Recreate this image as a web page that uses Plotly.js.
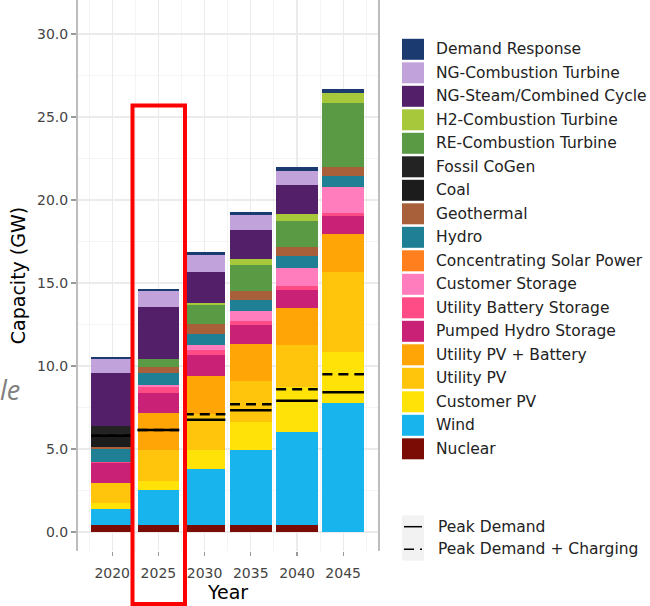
<!DOCTYPE html>
<html>
<head>
<meta charset="utf-8">
<script src="https://cdn.plot.ly/plotly-3.0.1.min.js"></script>
<style>
  html, body { margin: 0; padding: 0; background: #ffffff; }
  #chart { width: 650px; height: 606px; }
</style>
</head>
<body>
<div id="chart"></div>
<script>
// Study years on the x axis
const years = [2020, 2025, 2030, 2035, 2040, 2045];

// Installed capacity by resource (GW), one value per study year
const demandResponse        = [0.12, 0.14, 0.20, 0.20, 0.26, 0.21];
const ngCombustionTurbine   = [0.84, 0.94, 1.01, 0.87, 0.85, 0.00];
const ngSteamCombinedCycle  = [3.17, 3.12, 1.90, 1.78, 1.70, 0.00];
const h2CombustionTurbine   = [0.00, 0.00, 0.07, 0.37, 0.47, 0.60];
const reCombustionTurbine   = [0.00, 0.50, 1.15, 1.56, 1.56, 3.89];
const fossilCoGen           = [0.59, 0.00, 0.00, 0.00, 0.00, 0.00];
const coal                  = [0.66, 0.00, 0.00, 0.00, 0.00, 0.00];
const geothermal            = [0.16, 0.36, 0.60, 0.50, 0.53, 0.51];
const hydro                 = [0.75, 0.75, 0.66, 0.71, 0.69, 0.69];
const concentratingSolar    = [0.00, 0.00, 0.00, 0.00, 0.00, 0.00];
const customerStorage       = [0.00, 0.10, 0.30, 0.60, 1.10, 1.57];
const utilityBatteryStorage = [0.10, 0.35, 0.35, 0.24, 0.23, 0.16];
const pumpedHydroStorage    = [1.21, 1.21, 1.24, 1.10, 1.08, 1.09];
const utilityPvBattery      = [0.00, 2.21, 2.27, 2.27, 2.27, 2.27];
const utilityPv             = [1.20, 1.91, 2.21, 2.46, 2.52, 4.82];
const customerPv            = [0.36, 0.50, 1.14, 1.70, 2.71, 3.11];
const wind                  = [0.97, 2.15, 3.38, 4.52, 5.62, 7.75];
const nuclear               = [0.40, 0.40, 0.40, 0.40, 0.40, 0.00];

// Peak demand lines (GW)
const peakDemand         = [5.80, 6.14, 6.76, 7.33, 7.91, 8.42];
const peakDemandCharging = [5.80, 6.14, 7.09, 7.69, 8.60, 9.50];

// Key order, top to bottom
const techNames = [
  'Demand Response', 'NG-Combustion Turbine', 'NG-Steam/Combined Cycle',
  'H2-Combustion Turbine', 'RE-Combustion Turbine', 'Fossil CoGen', 'Coal',
  'Geothermal', 'Hydro', 'Concentrating Solar Power', 'Customer Storage',
  'Utility Battery Storage', 'Pumped Hydro Storage', 'Utility PV + Battery',
  'Utility PV', 'Customer PV', 'Wind', 'Nuclear'
];
const techValues = [
  demandResponse, ngCombustionTurbine, ngSteamCombinedCycle,
  h2CombustionTurbine, reCombustionTurbine, fossilCoGen, coal,
  geothermal, hydro, concentratingSolar, customerStorage,
  utilityBatteryStorage, pumpedHydroStorage, utilityPvBattery,
  utilityPv, customerPv, wind, nuclear
];
const techColors = [
  '#1b3a70', '#c2a2da', '#521f68',
  '#a8c83c', '#5b9a45', '#232323', '#1c1c1c',
  '#a7603a', '#1e7f95', '#ff7f1f', '#ff7dbd',
  '#ff4b86', '#c82176', '#ffa505',
  '#ffc40c', '#ffe208', '#18b4ed', '#7b0c05'
];

const barWidth = 4.5;
const FONT = 'DejaVu Sans, Liberation Sans, Arial, sans-serif';

// Plot area in pixels, used to place the key and overlay marks
const L = 78, R = 272, T = 0, B = 55, W = 650, H = 606;
const plotW = W - L - R, plotH = H - T - B;
const fx = px => (px - L) / plotW;
const fy = py => (H - B - py) / plotH;

const traces = [];

// Stacked bars: bottom of the stack is the last entry of the key
for (let i = techNames.length - 1; i >= 0; i--) {
  traces.push({
    type: 'bar',
    name: techNames[i],
    x: years,
    y: techValues[i],
    width: barWidth,
    marker: { color: techColors[i], line: { width: 0 } },
    showlegend: false,
    hoverinfo: 'x+y+name'
  });
}

// Horizontal demand markers spanning each bar
function segments(values) {
  const xs = [], ys = [];
  years.forEach((yr, k) => {
    xs.push(yr - barWidth / 2, yr + barWidth / 2, null);
    ys.push(values[k], values[k], null);
  });
  return { xs, ys };
}
const chg = segments(peakDemandCharging);
traces.push({
  type: 'scatter', mode: 'lines', name: 'Peak Demand + Charging',
  x: chg.xs, y: chg.ys, connectgaps: false,
  line: { color: '#000000', width: 2.5, dash: '10px,6px' },
  showlegend: false
});
const pk = segments(peakDemand);
traces.push({
  type: 'scatter', mode: 'lines', name: 'Peak Demand',
  x: pk.xs, y: pk.ys, connectgaps: false,
  line: { color: '#000000', width: 2.5 },
  showlegend: false
});

// Key: colour swatches and labels
const shapes = [];
const annotations = [];
const rowTop = 49.3, rowStep = 23.5;
techNames.forEach((name, i) => {
  const cy = rowTop + rowStep * i;
  shapes.push({
    type: 'rect', xref: 'paper', yref: 'paper',
    x0: fx(402), x1: fx(424), y0: fy(cy + 10.5), y1: fy(cy - 10.5),
    fillcolor: techColors[i], line: { width: 0 }
  });
  annotations.push({
    xref: 'paper', yref: 'paper', x: fx(434), y: fy(cy),
    xanchor: 'left', yanchor: 'middle', showarrow: false,
    text: name, font: { family: FONT, size: 15.5, color: '#222222' }
  });
});

// Key for the demand lines
const lineKeys = [
  { name: 'Peak Demand', dash: 'solid', cy: 526.7 },
  { name: 'Peak Demand + Charging', dash: '10px,6px', cy: 549.3 }
];
lineKeys.forEach(k => {
  shapes.push({
    type: 'rect', xref: 'paper', yref: 'paper',
    x0: fx(402), x1: fx(424), y0: fy(k.cy + 11.3), y1: fy(k.cy - 11.3),
    fillcolor: '#f2f2f2', line: { width: 0 }
  });
  shapes.push({
    type: 'line', xref: 'paper', yref: 'paper',
    x0: fx(404), x1: fx(422), y0: fy(k.cy), y1: fy(k.cy),
    line: { color: '#000000', width: 1.5, dash: k.dash }
  });
  annotations.push({
    xref: 'paper', yref: 'paper', x: fx(436), y: fy(k.cy),
    xanchor: 'left', yanchor: 'middle', showarrow: false,
    text: k.name, font: { family: FONT, size: 15.5, color: '#222222' }
  });
});

// Highlight box around the 2025 bar
shapes.push({
  type: 'rect', xref: 'paper', yref: 'paper',
  x0: fx(132.5), x1: fx(185), y0: fy(604), y1: fy(105.5),
  fillcolor: 'rgba(0,0,0,0)', line: { color: '#ff0000', width: 4 }
});

// Slide text fragment at the left edge
annotations.push({
  xref: 'paper', yref: 'paper', x: fx(-2), y: fy(390),
  xanchor: 'left', yanchor: 'middle', showarrow: false,
  text: 'le', font: { family: 'Open Sans, sans-serif', size: 27, color: '#7f7f7f', style: 'italic' }
});

const layout = {
  width: W, height: H,
  margin: { l: L, r: R, t: T, b: B, pad: 0 },
  paper_bgcolor: '#ffffff',
  plot_bgcolor: '#ffffff',
  barmode: 'stack',
  bargap: 0,
  font: { family: FONT, color: '#000000' },
  showlegend: false,
  xaxis: {
    range: [2016.3, 2048.77],
    tickmode: 'linear', tick0: 2020, dtick: 5,
    ticks: 'outside', ticklen: 4, tickwidth: 1.2, tickcolor: '#9a9a9a',
    ticklabelstandoff: 5,
    tickfont: { family: FONT, size: 14, color: '#444444' },
    showgrid: true, gridcolor: '#ebebeb', gridwidth: 1.3,
    minor: { dtick: 2.5, showgrid: true, gridcolor: '#f4f4f4', gridwidth: 1 },
    zeroline: false, showline: false,
    title: { text: 'Year', font: { family: FONT, size: 19, color: '#000000' }, standoff: 2 }
  },
  yaxis: {
    range: [-1.145, 32.05],
    tickmode: 'linear', tick0: 0, dtick: 5, tickformat: '.1f',
    ticks: 'outside', ticklen: 5, tickwidth: 1.2, tickcolor: '#9a9a9a',
    tickfont: { family: FONT, size: 14, color: '#444444' },
    showgrid: true, gridcolor: '#ebebeb', gridwidth: 1.3,
    minor: { dtick: 2.5, showgrid: true, gridcolor: '#f4f4f4', gridwidth: 1 },
    zeroline: false,
    showline: true, mirror: true, linecolor: '#bdbdbd', linewidth: 2,
    title: { text: 'Capacity (GW)', font: { family: FONT, size: 19, color: '#000000' }, standoff: 6 }
  },
  shapes: shapes,
  annotations: annotations
};

Plotly.newPlot('chart', traces, layout, { displayModeBar: false, staticPlot: true });
</script>
</body>
</html>
